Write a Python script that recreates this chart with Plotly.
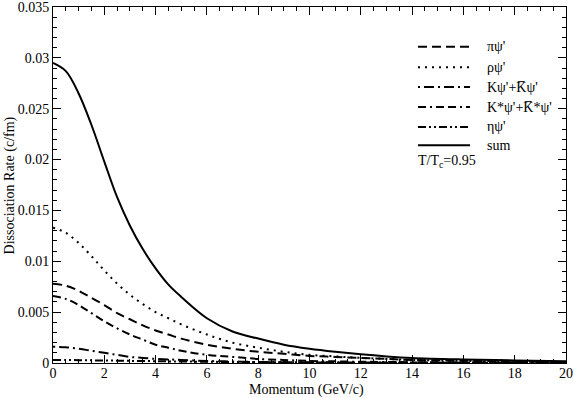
import plotly.graph_objects as go

# momentum grid (GeV/c)
momentum = [0, 0.5, 1, 1.5, 2, 2.5, 3, 3.5, 4, 4.5, 5, 6, 7, 8, 9, 10, 11, 12, 13, 14, 16, 18, 20]

# dissociation rates (c/fm)
rate_pi = [0.0078, 0.0076, 0.0071, 0.0064, 0.0057, 0.0049, 0.0043, 0.0037, 0.0032, 0.0028, 0.0024,
           0.0018, 0.0014, 0.0011, 0.0009, 0.0007, 0.0006, 0.0005, 0.0004, 0.0003, 0.00022, 0.00015, 0.0001]
rate_rho = [0.0133, 0.0128, 0.0118, 0.0105, 0.0091, 0.0078, 0.0067, 0.0058, 0.0050, 0.0044, 0.0038,
            0.0028, 0.0020, 0.0015, 0.0011, 0.0008, 0.00065, 0.0005, 0.0004, 0.0003, 0.0002, 0.00015, 0.0001]
rate_k = [0.0016, 0.00155, 0.0014, 0.0012, 0.0010, 0.0008, 0.0006, 0.0005, 0.0004, 0.00035, 0.0003,
          0.0002, 0.00015, 0.0001, 0.00008, 0.00006, 0.00005, 0.00004, 0.00003, 0.00003, 0.00002, 0.00002, 0.00001]
rate_kstar = [0.0066, 0.0063, 0.0057, 0.0049, 0.0041, 0.0034, 0.0028, 0.0023, 0.0018, 0.0015, 0.0012,
              0.0008, 0.0006, 0.0004, 0.0003, 0.0002, 0.00016, 0.00012, 0.0001, 0.00008, 0.00005, 0.00004, 0.00003]
rate_eta = [0.0003, 0.00029, 0.00028, 0.00026, 0.00025, 0.00023, 0.00021, 0.0002, 0.00018, 0.00016, 0.00015,
            0.00012, 0.0001, 0.00009, 0.00008, 0.00007, 0.00006, 0.00005, 0.00005, 0.00004, 0.00003, 0.00003, 0.00002]
rate_sum = [0.0295, 0.0287, 0.0265, 0.0234, 0.0198, 0.0163, 0.0135, 0.0112, 0.0093, 0.0077, 0.0065,
            0.0044, 0.0031, 0.0024, 0.0018, 0.0014, 0.0011, 0.00085, 0.00065, 0.0005, 0.00035, 0.00025, 0.00018]

y_ticks = [0, 0.005, 0.01, 0.015, 0.02, 0.025, 0.03, 0.035]
y_labels = ["0", "0.005", "0.01", "0.015", "0.02", "0.025", "0.03", "0.035"]

series = [
    ("\u03c0\u03c8'", rate_pi, "9px,5px"),
    ("\u03c1\u03c8'", rate_rho, "2px,5px"),
    ("K\u03c8'+K\u0305\u03c8'", rate_k, "2px,4px,10px,4px"),
    ("K*\u03c8'+K\u0305*\u03c8'", rate_kstar, "8px,4px,2px,4px,8px,4px"),
    ("\u03b7\u03c8'", rate_eta, "8px,3px,2px,3px,2px,3px"),
    ("sum", rate_sum, "solid"),
]

serif = "Liberation Serif"

fig = go.Figure()
for name, vals, dash in series:
    fig.add_trace(go.Scatter(
        x=momentum, y=vals, name=name, mode="lines", showlegend=False,
        line=dict(color="black", width=2, dash=dash, shape="spline", smoothing=1),
    ))

# hand-made legend so the line samples are as long as in the original
leg_rows = [0.888, 0.831, 0.775, 0.719, 0.663, 0.612]
for (name, vals, dash), ly in zip(series, leg_rows):
    fig.add_shape(type="line", xref="paper", yref="paper", x0=0.7115, x1=0.8129, y0=ly, y1=ly,
                  line=dict(color="black", width=2, dash=dash))
    fig.add_annotation(text=name, xref="paper", yref="paper", x=0.842, y=ly,
                       xanchor="left", yanchor="middle", showarrow=False,
                       font=dict(family=serif, size=14, color="black"))

fig.add_annotation(
    text="T/T<sub>c</sub>=0.95", xref="paper", yref="paper", x=0.708, y=0.565,
    xanchor="left", yanchor="middle", showarrow=False,
    font=dict(family=serif, size=14, color="black"),
)

# axis titles
fig.add_annotation(text="Momentum (GeV/c)", xref="paper", yref="paper", x=0.495, y=-0.075,
                   xanchor="center", yanchor="middle", showarrow=False,
                   font=dict(family=serif, size=14, color="black"))
fig.add_annotation(text="Dissociation Rate (c/fm)", xref="paper", yref="paper", x=-0.083, y=0.5,
                   xanchor="center", yanchor="middle", showarrow=False, textangle=-90,
                   font=dict(family=serif, size=14, color="black"))

axis_common = dict(
    showline=True, linecolor="black", linewidth=1, mirror="allticks",
    ticks="inside", ticklen=8, tickcolor="black", showgrid=False, zeroline=False,
    automargin=False, ticklabeloverflow="allow",
    tickfont=dict(family=serif, size=14, color="black"),
)
fig.update_xaxes(
    range=[0, 20], dtick=2, ticklabelstandoff=-3,
    minor=dict(dtick=0.5, ticks="inside", ticklen=4, tickcolor="black"),
    **axis_common,
)
fig.update_yaxes(
    range=[0, 0.035], tickvals=y_ticks, ticktext=y_labels,
    minor=dict(dtick=0.001, ticks="inside", ticklen=4, tickcolor="black"),
    **axis_common,
)

fig.update_layout(
    width=574, height=398,
    margin=dict(l=53, r=8, t=7, b=35),
    plot_bgcolor="white", paper_bgcolor="white",
    font=dict(family=serif, color="black"),
    showlegend=False,
)

# drop the default page margin so the figure sits at the window's corner
fig.write_html("out.html", config={"displayModeBar": False},
               post_script="document.body.style.margin='0';")
